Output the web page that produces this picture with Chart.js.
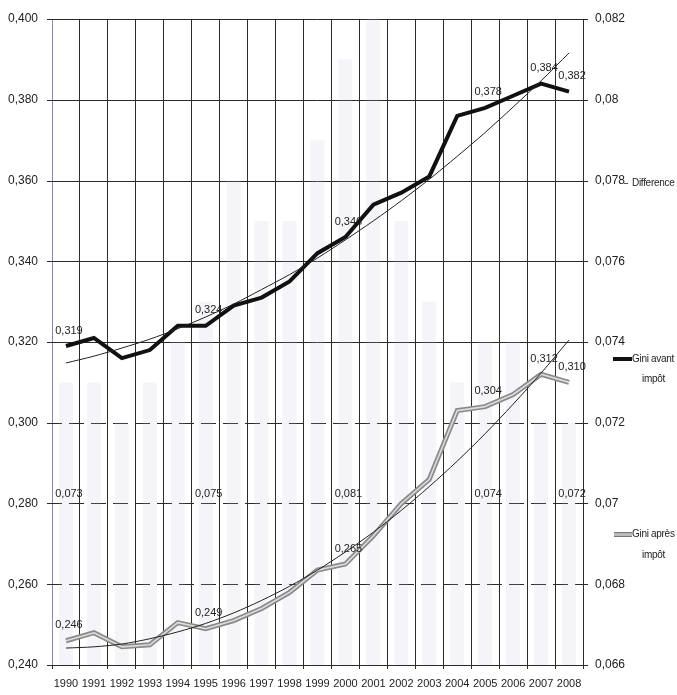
<!DOCTYPE html>
<html>
<head>
<meta charset="utf-8">
<script src="https://cdn.jsdelivr.net/npm/chart.js@4/dist/chart.umd.min.js"></script>
<style>
  html,body{margin:0;padding:0;background:#fff;}
  #wrap{position:relative;width:677px;height:695px;}
  .lg{position:absolute;font:10px "Liberation Sans",sans-serif;color:#222;line-height:12px;white-space:nowrap;letter-spacing:-0.3px;}
  .sw{position:absolute;}
</style>
</head>
<body>
<div id="wrap">
  <canvas id="c" width="677" height="695"></canvas>
  <div class="sw" style="left:624px;top:183px;width:4px;height:1px;background:#555"></div>
  <div class="lg" style="left:632px;top:177px">Difference</div>
  <div class="sw" style="left:613px;top:357px;width:19px;height:4px;background:#111"></div>
  <div class="lg" style="left:632px;top:353px">Gini avant</div>
  <div class="lg" style="left:642px;top:373px">impôt</div>
  <div class="sw" style="left:614px;top:532px;width:18px;height:3px;background:#bbb;border-top:1px solid #777;border-bottom:1px solid #777"></div>
  <div class="lg" style="left:632px;top:528px">Gini après</div>
  <div class="lg" style="left:642px;top:549px">impôt</div>
</div>
<script>
// values
const years = ['1990','1991','1992','1993','1994','1995','1996','1997','1998','1999',
               '2000','2001','2002','2003','2004','2005','2006','2007','2008'];
const giniAvant = [0.319,0.321,0.316,0.318,0.324,0.324,0.329,0.331,0.335,0.342,
                   0.346,0.354,0.357,0.361,0.376,0.378,0.381,0.384,0.382];
const giniApres = [0.246,0.248,0.2445,0.245,0.2505,0.249,0.251,0.254,0.258,0.2635,
                   0.265,0.272,0.280,0.286,0.303,0.304,0.307,0.312,0.310];
const difference = [0.073,0.073,0.072,0.073,0.074,0.075,0.078,0.077,0.077,0.079,
                    0.081,0.082,0.077,0.075,0.073,0.074,0.074,0.072,0.072];
// the two thin trend curves
const trendAvant = [0.3148,0.3165,0.3185,0.3207,0.3233,0.3262,0.3294,0.3330,0.3367,0.3408,
                    0.3453,0.3500,0.3550,0.3603,0.3660,0.3719,0.3782,0.3847,0.3916];
const trendApres = [0.2442,0.2445,0.2452,0.2465,0.2482,0.2503,0.2529,0.2560,0.2595,0.2635,
                    0.2680,0.2729,0.2783,0.2842,0.2905,0.2973,0.3046,0.3123,0.3205];
const labelIdx = [0,5,10,15,17,18];
const diffLabelIdx = [0,5,10,15,18];

const FONT = '"Liberation Sans",sans-serif';
const fmt = v => v.toFixed(3).replace('.', ',');

// horizontal grid: solid in the upper part, dashed in the lower part
const hGrid = {
  id:'hGrid',
  beforeDatasetsDraw(chart){
    const {ctx, chartArea:a, scales:{y}} = chart;
    ctx.save();
    ctx.strokeStyle = '#2b2b2b';
    ctx.lineWidth = 1;
    y.ticks.forEach(t=>{
      const py = Math.round(y.getPixelForValue(t.value)) + 0.5;
      ctx.setLineDash(t.value > 0.25 && t.value < 0.31 ? [15,7] : []);
      ctx.beginPath();
      ctx.moveTo(a.left - 5, py);
      ctx.lineTo(a.right + 5, py);
      ctx.stroke();
    });
    ctx.restore();
  }
};

// light core of the "après" line, giving the hollow double-line look
const hollow = {
  id:'hollow',
  afterDatasetDraw(chart, args){
    if (args.index !== 2) return;
    const pts = args.meta.data, ctx = chart.ctx;
    ctx.save();
    ctx.strokeStyle = '#dcdcdc';
    ctx.lineWidth = 1.6;
    ctx.lineJoin = 'round';
    ctx.beginPath();
    pts.forEach((p,i)=> i ? ctx.lineTo(p.x,p.y) : ctx.moveTo(p.x,p.y));
    ctx.stroke();
    ctx.restore();
  }
};

const valueLabels = {
  id:'valueLabels',
  afterDatasetsDraw(chart){
    const ctx = chart.ctx;
    ctx.save();
    ctx.font = '11px ' + FONT;
    ctx.fillStyle = '#222';
    ctx.textAlign = 'center';
    ctx.textBaseline = 'bottom';
    [1,2].forEach(di=>{
      const meta = chart.getDatasetMeta(di), d = chart.data.datasets[di].data;
      labelIdx.forEach(k=>{
        const p = meta.data[k];
        ctx.fillText(fmt(d[k]), p.x + 3, p.y - 10);
      });
    });
    const bars = chart.getDatasetMeta(0), y1 = chart.scales.y1;
    diffLabelIdx.forEach(k=>{
      ctx.fillText(fmt(difference[k]), bars.data[k].x + 3, y1.getPixelForValue(0.0701));
    });
    ctx.restore();
  }
};

new Chart(document.getElementById('c'), {
  data:{
    labels: years,
    datasets:[
      {type:'bar', label:'Difference', data:difference, yAxisID:'y1',
       backgroundColor:'rgba(195,195,220,0.16)', barPercentage:0.5, categoryPercentage:1, order:5},
      {type:'line', label:'Gini avant impôt', data:giniAvant, yAxisID:'y',
       borderColor:'#111', borderWidth:4, pointRadius:0, tension:0, order:3},
      {type:'line', label:'Gini après impôt', data:giniApres, yAxisID:'y',
       borderColor:'#8a8a8a', borderWidth:5, pointRadius:0, tension:0, order:4},
      {type:'line', label:'trend avant', data:trendAvant, yAxisID:'y',
       borderColor:'#222', borderWidth:1, pointRadius:0, tension:0.3, order:1},
      {type:'line', label:'trend après', data:trendApres, yAxisID:'y',
       borderColor:'#222', borderWidth:1, pointRadius:0, tension:0.3, order:1}
    ]
  },
  options:{
    responsive:false,
    animation:false,
    layout:{padding:{top:19, right:48, left:0, bottom:0}},
    plugins:{legend:{display:false}, tooltip:{enabled:false}},
    scales:{
      x:{
        offset:true,
        grid:{offset:true, color:'#2b2b2b', lineWidth:1, tickLength:4},
        border:{color:'#2b2b2b'},
        ticks:{color:'#222', font:{family:FONT, size:11}, padding:8, maxRotation:0, autoSkip:false},
        afterFit:s=>{s.height = 30;}
      },
      y:{
        position:'left', min:0.24, max:0.40,
        grid:{display:false},
        border:{color:'#8d86b4'},
        ticks:{stepSize:0.02, color:'#222', font:{family:FONT, size:12}, padding:6,
               callback:v=>fmt(v)},
        afterFit:s=>{s.width = 52;}
      },
      y1:{
        position:'right', min:0.066, max:0.082,
        grid:{display:false},
        border:{color:'#2b2b2b'},
        ticks:{stepSize:0.002, color:'#222', font:{family:FONT, size:12}, padding:4,
               callback:v=>String(parseFloat(v.toFixed(3))).replace('.', ',')},
        afterFit:s=>{s.width = 46;}
      }
    }
  },
  plugins:[hGrid, hollow, valueLabels]
});
</script>
</body>
</html>
